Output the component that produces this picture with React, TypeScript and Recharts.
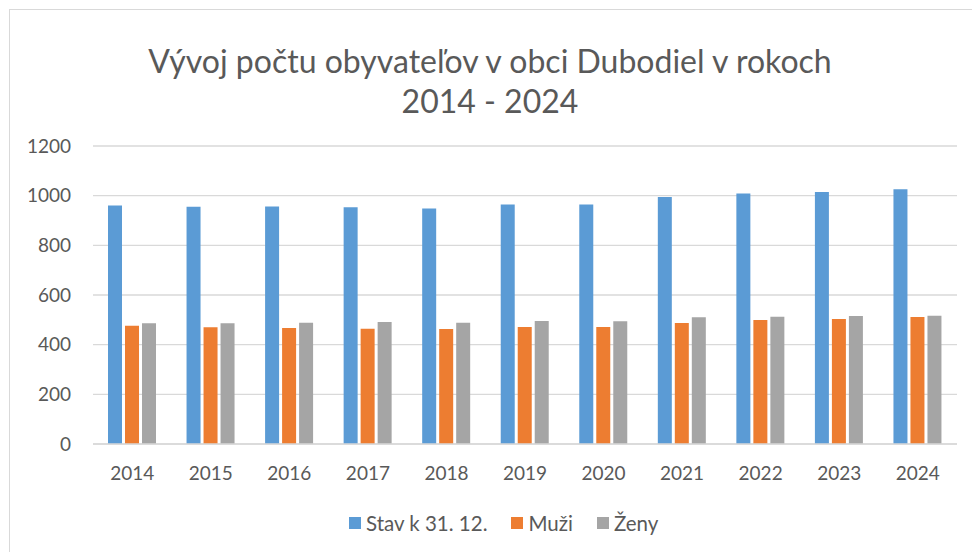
import { BarChart, Bar, XAxis, YAxis, CartesianGrid } from 'recharts'

const years = ['2014', '2015', '2016', '2017', '2018', '2019', '2020', '2021', '2022', '2023', '2024']
const stav = [960, 955, 956, 953, 948, 964, 964, 995, 1009, 1015, 1026]
const muzi = [476, 470, 467, 464, 463, 471, 471, 487, 499, 503, 511]
const zeny = [486, 486, 488, 491, 488, 495, 494, 510, 512, 515, 516]
const yTicks = [0, 200, 400, 600, 800, 1000, 1200]

const series = [
  { key: 'stav', name: 'Stav k 31. 12.', color: '#5b9bd5' },
  { key: 'muzi', name: 'Muži', color: '#ed7d31' },
  { key: 'zeny', name: 'Ženy', color: '#a5a5a5' },
]

const data = years.map((y, i) => ({ year: y, stav: stav[i], muzi: muzi[i], zeny: zeny[i] }))

const font = 'Lato, "Open Sans", sans-serif'
const textColor = '#595959'

export default function App() {
  return (
    <div style={{ position: 'fixed', left: 0, top: 0, width: 972, height: 552, background: '#fff', fontFamily: font }}>
      <div style={{ position: 'absolute', left: 9, top: 9, right: 0, bottom: 0, borderLeft: '1.5px solid #d9d9d9', borderTop: '1.5px solid #d9d9d9' }} />
      <div style={{ position: 'absolute', left: 0, width: 972, top: 41, textAlign: 'center', color: textColor, fontSize: 32, lineHeight: '40px' }}>
        <div style={{ marginLeft: 8 }}>Vývoj počtu obyvateľov v obci Dubodiel v rokoch</div>
        <div style={{ marginLeft: 8 }}>2014 - 2024</div>
      </div>
      <div style={{ position: 'absolute', left: 0, top: 0 }}>
        <BarChart width={972} height={552} data={data} margin={{ top: 146, right: 15, left: 0, bottom: 68 }}
          barSize={14} barGap={3} barCategoryGap="18%">
          <CartesianGrid vertical={false} stroke="#d9d9d9" strokeWidth={1.3} />
          <XAxis dataKey="year" tickLine={false} axisLine={{ stroke: '#d9d9d9', strokeWidth: 1.3 }} height={40}
            tick={{ fontSize: 19, fill: textColor, fontFamily: font }} tickMargin={17} />
          <YAxis width={93} domain={[0, 1200]} ticks={yTicks} tickLine={false} axisLine={false}
            tick={{ fontSize: 19, fill: textColor, fontFamily: font }} tickMargin={16} />
          {series.map((s) => (
            <Bar key={s.key} dataKey={s.key} name={s.name} fill={s.color} isAnimationActive={false} />
          ))}
        </BarChart>
      </div>
      <div style={{ position: 'absolute', left: 349, top: 511, display: 'flex', alignItems: 'center', color: textColor, fontSize: 20.5 }}>
        {series.map((s) => (
          <div key={s.key} style={{ display: 'flex', alignItems: 'center', marginRight: 24 }}>
            <span style={{ width: 12, height: 12, background: s.color, marginRight: 5, display: 'inline-block' }} />
            <span>{s.name}</span>
          </div>
        ))}
      </div>
    </div>
  )
}
